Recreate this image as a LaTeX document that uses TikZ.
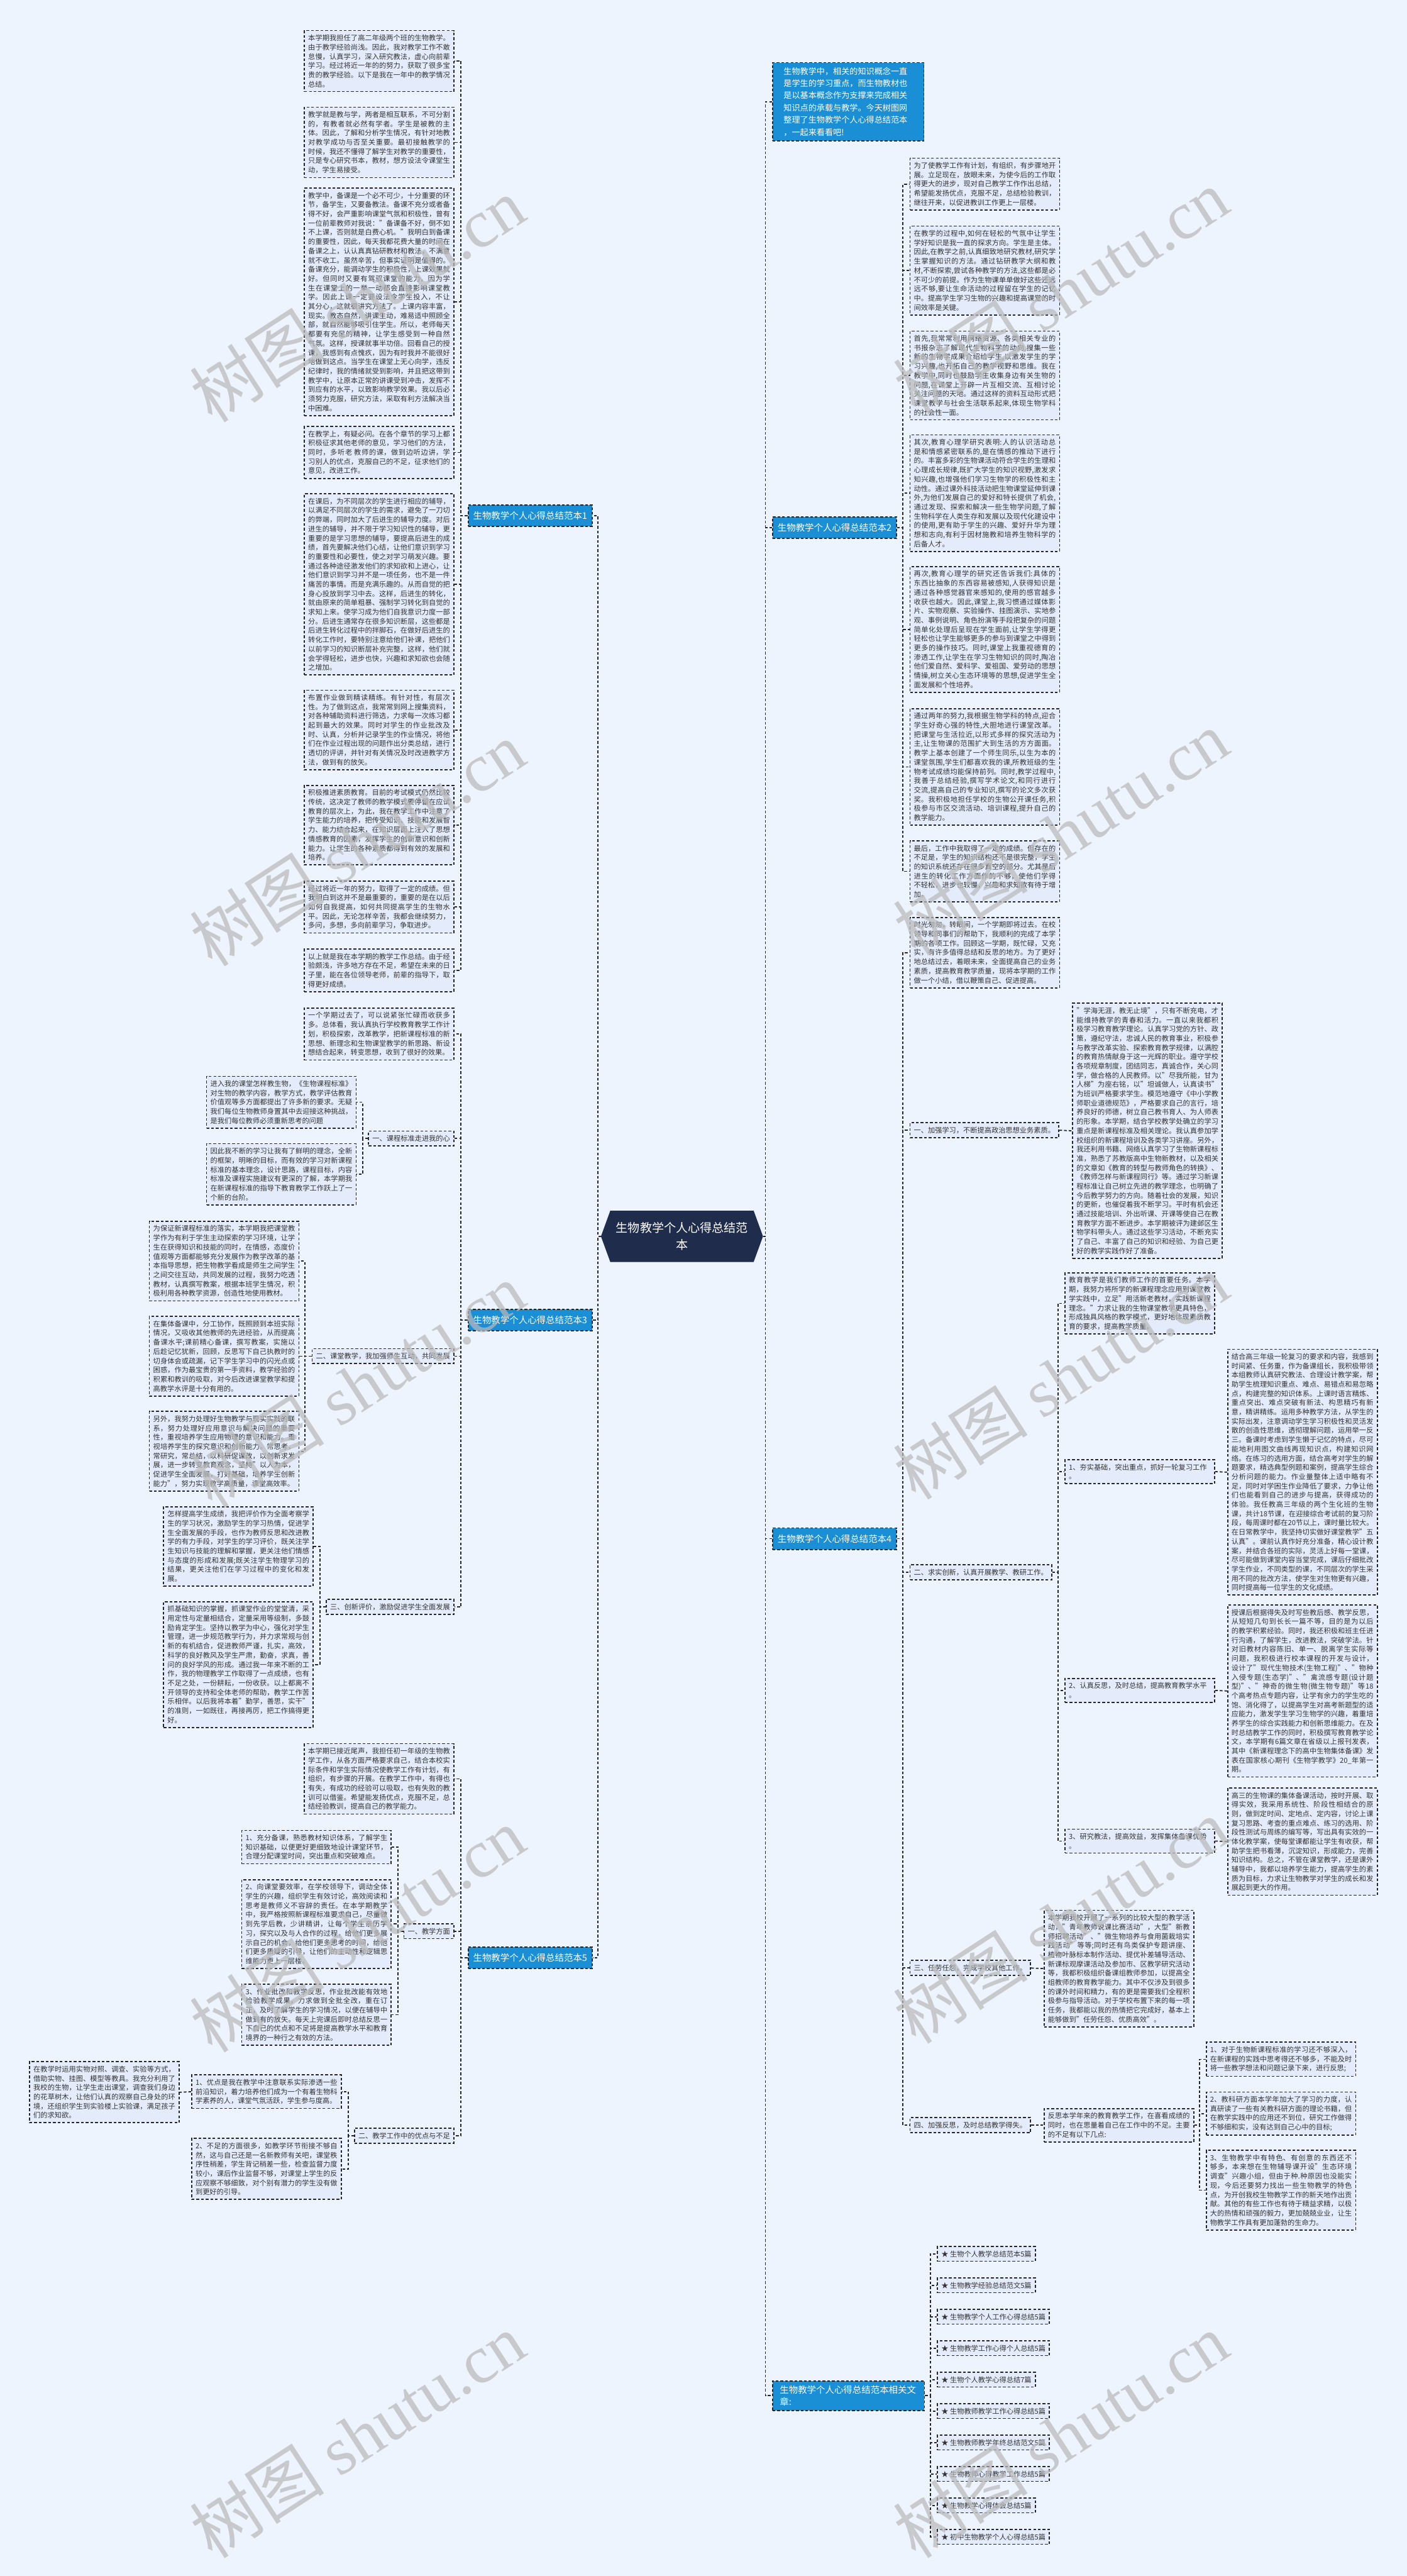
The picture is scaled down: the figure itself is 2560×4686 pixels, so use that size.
\documentclass[tikz,border=0pt]{standalone}
\usepackage{fontspec}
\setmainfont{Noto Sans CJK SC}
\newfontfamily\wmlatin{Liberation Serif}
\usetikzlibrary{shapes.symbols}
\XeTeXlinebreaklocale "zh"
\XeTeXlinebreakskip=0pt plus 0.6pt
\definecolor{pagebg}{HTML}{EEF4FE}
\definecolor{boxbg}{HTML}{E4ECFB}
\definecolor{topicblue}{HTML}{1A8FD6}
\definecolor{rootnavy}{HTML}{1F2C4C}
\definecolor{inktext}{HTML}{333333}
\tikzset{
  boxline/.style={draw=black!85, line width=0.02cm, dash pattern=on 0.05cm off 0.035cm},
  link/.style={boxline},
  smalltext/.style={fill=boxbg, text=inktext, font=\fontsize{3.65pt}{4.78pt}\selectfont, inner xsep=0.07cm, inner ysep=0.075cm},
  note/.style={boxline, smalltext, text width=2.58cm, align=justify},
  head/.style={boxline, smalltext},
  topic/.style={boxline, fill=topicblue, text=white, font=\fontsize{4.7pt}{6pt}\selectfont, inner xsep=0.09cm, minimum height=0.39cm},
  intro/.style={boxline, fill=topicblue, text=white, font=\fontsize{4.27pt}{6.3pt}\selectfont, inner xsep=0.2cm, inner ysep=0.085cm, text width=2.35cm, align=left},
  relnode/.style={boxline, fill=topicblue, text=white, font=\fontsize{4.7pt}{6.4pt}\selectfont, inner xsep=0.13cm, inner ysep=0.08cm, text width=2.5cm, align=left},
  root/.style={signal, signal to=west and east, signal pointer angle=140, fill=rootnavy, draw=rootnavy, text=white, font=\fontsize{6.2pt}{8.6pt}\selectfont, align=center, inner xsep=0.1cm, minimum width=2.84cm, minimum height=0.92cm},
  wm/.style={text=gray!55, opacity=0.72, rotate=33, font=\fontsize{35pt}{35pt}\selectfont}
}
\begin{document}
\begin{tikzpicture}[x=0.01cm,y=-0.01cm]
\useasboundingbox (0,0) rectangle (2560,4686);
\fill[pagebg] (0,0) rectangle (2560,4686);

\node[root] (root) at (1241,2249) {生物教学个人心得总结范\\本};
\node[topic, anchor=west] (t1) at (851,938) {生物教学个人心得总结范本1};
\node[topic, anchor=west] (t3) at (851,2401) {生物教学个人心得总结范本3};
\node[topic, anchor=west] (t5) at (851,3561) {生物教学个人心得总结范本5};
\node[topic, anchor=west] (t2) at (1405,960) {生物教学个人心得总结范本2};
\node[topic, anchor=west] (t4) at (1405,2799) {生物教学个人心得总结范本4};
\node[intro, anchor=west] (intro) at (1405,185) {生物教学中，相关的知识概念一直\\是学生的学习重点，而生物教材也\\是以基本概念作为支撑来完成相关\\知识点的承载与教学。今天树图网\\整理了生物教学个人心得总结范本\\，一起来看看吧!};
\node[relnode, anchor=west] (rel) at (1405,4358) {生物教学个人心得总结范本相关文\\章:};

% 范本1
\node[note, anchor=east] (p1a) at (827,111) {本学期我担任了高二年级两个班的生物教学。由于教学经验尚浅。因此，我对教学工作不敢怠慢，认真学习，深入研究教法，虚心向前辈学习。经过将近一年的的努力，获取了很多宝贵的教学经验。以下是我在一年中的教学情况总结。};
\node[note, anchor=east] (p1b) at (827,259) {教学就是教与学，两者是相互联系，不可分割的，有教者就必然有学者。学生是被教的主体。因此，了解和分析学生情况，有针对地教对教学成功与否至关重要。最初接触教学的时候，我还不懂得了解学生对教学的重要性，只是专心研究书本，教材，想方设法令课堂生动，学生易接受。};
\node[note, anchor=east] (p1c) at (827,549) {教学中，备课是一个必不可少，十分重要的环节，备学生，又要备教法。备课不充分或者备得不好，会严重影响课堂气氛和积极性，曾有一位前辈教师对我说："备课备不好，倒不如不上课，否则就是白费心机。"我明白到备课的重要性，因此，每天我都花费大量的时间在备课之上，认认真真钻研教材和教法，不满意就不收工。虽然辛苦，但事实证明是值得的。备课充分，能调动学生的积极性，上课效果就好。但同时又要有驾驭课堂的能力，因为学生在课堂上的一举一动都会直接影响课堂教学。因此上课一定要设法令学生投入，不让其分心，这就很讲究方法了。上课内容丰富，现实。教态自然，讲课生动，难易适中照顾全部，就自然能够吸引住学生。所以，老师每天都要有充足的精神，让学生感受到一种自然气氛。这样，授课就事半功倍。回看自己的授课，我感到有点愧疚，因为有时我并不能很好地做到这点。当学生在课堂上无心向学，违反纪律时，我的情绪就受到影响，并且把这带到教学中，让原本正常的讲课受到冲击，发挥不到应有的水平，以致影响教学效果。我以后必须努力克服，研究方法，采取有利方法解决当中困难。};
\node[note, anchor=east] (p1d) at (827,823) {在教学上，有疑必问。在各个章节的学习上都积极征求其他老师的意见，学习他们的方法，同时，多听老 教师的课，做到边听边讲，学习别人的优点，克服自己的不足，征求他们的意见，改进工作。};
\node[note, anchor=east] (p1e) at (827,1063) {在课后，为不同层次的学生进行相应的辅导，以满足不同层次的学生的需求，避免了一刀切的弊端，同时加大了后进生的辅导力度。对后进生的辅导，并不限于学习知识性的辅导，更重要的是学习思想的辅导，要提高后进生的成绩，首先要解决他们心结，让他们意识到学习的重要性和必要性，使之对学习萌发兴趣。要通过各种途径激发他们的求知欲和上进心，让他们意识到学习并不是一项任务，也不是一件痛苦的事情。而是充满乐趣的。从而自觉的把身心投放到学习中去。这样，后进生的转化，就由原来的简单粗暴、强制学习转化到自觉的求知上来。使学习成为他们自我意识力度一部分。后进生通常存在很多知识断层，这些都是后进生转化过程中的拌脚石，在做好后进生的转化工作时，要特别注意给他们补课，把他们以前学习的知识断层补充完整，这样，他们就会学得轻松，进步也快，兴趣和求知欲也会随之增加。};
\node[note, anchor=east] (p1f) at (827,1328) {布置作业做到精读精练。有针对性，有层次性。为了做到这点，我常常到网上搜集资料，对各种辅助资料进行筛选，力求每一次练习都起到最大的效果。同时对学生的作业批改及时、认真，分析并记录学生的作业情况，将他们在作业过程出现的问题作出分类总结，进行透切的评讲，并针对有关情况及时改进教学方法，做到有的放矢。};
\node[note, anchor=east] (p1g) at (827,1501) {积极推进素质教育。目前的考试模式仍然比较传统，这决定了教师的教学模式要停留在应试教育的层次上，为此，我在教学工作中注意了学生能力的培养，把传受知识、技能和发展智力、能力结合起来，在知识层面上注入了思想情感教育的因素，发挥学生的创新意识和创新能力。让学生的各种素质都得到有效的发展和培养。};
\node[note, anchor=east] (p1h) at (827,1650) {经过将近一年的努力，取得了一定的成绩。但我明白到这并不是最重要的，重要的是在以后如何自我提高，如何共同提高学生的生物水平。因此，无论怎样辛苦，我都会继续努力，多问，多想，多向前辈学习，争取进步。};
\node[note, anchor=east] (p1i) at (827,1765) {以上就是我在本学期的教学工作总结。由于经验颇浅，许多地方存在不足，希望在未来的日子里，能在各位领导老师，前辈的指导下，取得更好成绩。};

% 范本3
\node[note, anchor=east] (p30) at (827,1881) {一个学期过去了，可以说紧张忙碌而收获多多。总体看，我认真执行学校教育教学工作计划，积极探索，改革教学，把新课程标准的新思想、新理念和生物课堂教学的新思路、新设想结合起来，转变思想，收到了很好的效果。};
\node[head, anchor=east] (h31) at (827,2071) {一、课程标准走进我的心};
\node[head, anchor=east] (h32) at (827,2467) {二、课堂教学，我加强师生互动，共同发展};
\node[head, anchor=east] (h33) at (827,2923) {三、创新评价，激励促进学生全面发展};
\node[note, anchor=east] (p31a) at (649,2005) {进入我的课堂怎样教生物，《生物课程标准》对生物的教学内容，教学方式，教学评估教育价值观等多方面都提出了许多新的要求。无疑我们每位生物教师身置其中去迎接这种挑战，是我们每位教师必须重新思考的问题};
\node[note, anchor=east] (p31b) at (649,2136) {因此我不断的学习让我有了鲜明的理念，全新的框架，明晰的目标，而有效的学习对新课程标准的基本理念，设计思路，课程目标，内容标准及课程实施建议有更深的了解，本学期我在新课程标准的指导下教育教学工作跃上了一个新的台阶。};
\node[note, anchor=east] (p32a) at (545,2294) {为保证新课程标准的落实，本学期我把课堂教学作为有利于学生主动探索的学习环境，让学生在获得知识和技能的同时，在情感，态度价值观等方面都能够充分发展作为教学改革的基本指导思想，把生物教学看成是师生之间学生之间交往互动，共同发展的过程，我努力吃透教材，认真撰写教案，根据本班学生情况，积极利用各种教学资源，创造性地使用教材。};
\node[note, anchor=east] (p32b) at (545,2467) {在集体备课中，分工协作，既照顾到本班实际情况，又吸收其他教师的先进经验，从而提高备课水平;课前精心备课，撰写教案，实施以后趁记忆犹新，回顾，反思写下自己执教时的切身体会或疏漏，记下学生学习中的闪光点或困惑，作为最宝贵的第一手资料，教学经验的积累和教训的吸取，对今后改进课堂教学和提高教学水评是十分有用的。};
\node[note, anchor=east] (p32c) at (545,2640) {另外，我努力处理好生物教学与现实实践的联系，努力处理好应用意识与解决问题的重要性，重视培养学生应用物理的意识和能力。重视培养学生的探究意识和创新能力。常思考，常研究，常总结，以科研促课改，以创新求发展，进一步转变教育观念，坚持"以人为本，促进学生全面发展，打好基础，培养学生创新能力"，努力实现教学高质量，课堂高效率。};
\node[note, anchor=east] (p33a) at (571,2813) {怎样提高学生成绩，我把评价作为全面考察学生的学习状况，激励学生的学习热情，促进学生全面发展的手段，也作为教师反思和改进教学的有力手段，对学生的学习评价，既关注学生知识与技能的理解和掌握，更关注他们情感与态度的形成和发展;既关注学生物理学习的结果，更关注他们在学习过程中的变化和发展。};
\node[note, anchor=east] (p33b) at (571,3028) {抓基础知识的掌握，抓课堂作业的堂堂清，采用定性与定量相结合，定量采用等级制，多鼓励肯定学生。坚持以教学为中心，强化对学生管理，进一步规范教学行为，并力求常规与创新的有机结合，促进教师严谨，扎实，高效，科学的良好教风及学生严肃，勤奋，求真，善问的良好学风的形成。通过我一年来不断的工作，我的物理教学工作取得了一点成绩，也有不足之处，一份耕耘，一份收获。以上都离不开领导的支持和全体老师的帮助，教学工作苦乐相伴。以后我将本着"勤学，善思，实干"的准则，一如既往，再接再厉，把工作搞得更好。};

% 范本5
\node[note, anchor=east] (p50) at (827,3236) {本学期已接近尾声，我担任初一年级的生物教学工作，从各方面严格要求自己，结合本校实际条件和学生实际情况使教学工作有计划，有组织，有步骤的开展。在教学工作中，有得也有失，有成功的经验可以吸取，也有失败的教训可以借鉴。希望能发扬优点，克服不足，总结经验教训，提高自己的教学能力。};
\node[head, anchor=east] (h51) at (827,3513) {一、教学方面};
\node[head, anchor=east] (h52) at (827,3885) {二、教学工作中的优点与不足};
\node[note, anchor=east] (p51a) at (713,3360) {1、充分备课，熟悉教材知识体系，了解学生知识基础，以便更好更细致地设计课堂环节，合理分配课堂时间，突出重点和突破难点。};
\node[note, anchor=east] (p51b) at (713,3500) {2、向课堂要效率，在学校领导下，调动全体学生的兴趣，组织学生有效讨论，高效阅读和思考是教师义不容辞的责任。在本学期教学中，我严格按照新课程标准要求自己，尽量做到先学后教，少讲精讲，让每个学生亲历学习，探究以及与人合作的过程，给他们更多展示自己的机会，给他们更多思考的时间，给他们更多质疑的引导，让他们的主动性和逻辑思维能力更上一层楼。};
\node[note, anchor=east] (p51c) at (713,3665) {3、作业批改和教学反思，作业批改能有效地检验教学成果，力求做到全批全改，重在订正，及时了解学生的学习情况，以便在辅导中做到有的放矢。每天上完课后即时总结反思一下自己的优点和不足将是提高教学水平和教育境界的一种行之有效的方法。};
\node[note, anchor=east] (p52a) at (622,3805) {1、优点是我在教学中注意联系实际渗透一些前沿知识，着力培养他们成为一个有着生物科学素养的人，课堂气氛活跃，学生参与度高。};
\node[note, anchor=north east] (p52b) at (622,3889) {2、不足的方面很多，如教学环节衔接不够自然，这与自己还是一名新教师有关吧，课堂秩序性稍差，学生背记稍差一些，检查监督力度较小，课后作业监督不够，对课堂上学生的反应观察不够细致，对个别有潜力的学生没有做到更好的引导。};
\node[note, anchor=east] (p52c) at (327,3806) {在教学时运用实物对照、调查、实验等方式，借助实物、挂图、模型等教具。我充分利用了我校的生物，让学生走出课堂，调查我们身边的花草树木，让他们认真的观察自己身处的环境，还组织学生到实验楼上实验课，满足孩子们的求知欲。};

% 范本2
\node[note, anchor=west] (p2a) at (1655,335) {为了使教学工作有计划，有组织，有步骤地开展。立足现在，放眼未来，为使今后的工作取得更大的进步，现对自己教学工作作出总结，希望能发扬优点，克服不足，总结检验教训，继往开来，以促进教训工作更上一层楼。};
\node[note, anchor=west] (p2b) at (1655,492) {在教学的过程中,如何在轻松的气氛中让学生学好知识是我一直的探求方向。学生是主体。因此,在教学之前,认真细致地研究教材,研究学生掌握知识的方法。通过钻研教学大纲和教材,不断探索,尝试各种教学的方法,这些都是必不可少的前提。作为生物课单单做好这些还远远不够,要让生命活动的过程留在学生的记忆中。提高学生学习生物的兴趣和提高课堂的时间效率是关键。};
\node[note, anchor=west] (p2c) at (1655,683) {首先,我常常利用网络资源、各类相关专业的书报杂志了解现代生物科学的动向,搜集一些新的生物学成果介绍给学生,以激发学生的学习兴趣,也开拓自己的教学视野和思维。我在教学中,同时也鼓励学生收集身边有关生物的问题,在课堂上开辟一片互相交流、互相讨论关注问题的天地。通过这样的资料互动形式把课堂教学与社会生活联系起来,体现生物学科的社会性一面。};
\node[note, anchor=west] (p2d) at (1655,897) {其次,教育心理学研究表明:人的认识活动总是和情感紧密联系的,是在情感的推动下进行的。丰富多彩的生物课活动符合学生的生理和心理成长规律,既扩大学生的知识视野,激发求知兴趣,也增强他们学习生物学的积极性和主动性。通过课外科技活动把生物课堂延伸到课外,为他们发展自己的爱好和特长提供了机会,通过发现、探索和解决一些生物学问题,了解生物科学在人类生存和发展以及现代化建设中的使用,更有助于学生的兴趣、爱好升华为理想和志向,有利于因材施教和培养生物科学的后备人才。};
\node[note, anchor=west] (p2e) at (1655,1145) {再次,教育心理学的研究还告诉我们:具体的东西比抽象的东西容易被感知,人获得知识是通过各种感觉器官来感知的,使用的感官越多收获也越大。因此,课堂上,我习惯通过媒体影片、实物观察、实验操作、挂图演示、实地参观、事例说明、角色扮演等手段把复杂的问题简单化处理后呈现在学生面前,让学生学得更轻松也让学生能够更多的参与到课堂之中得到更多的操作技巧。同时,课堂上我重视德育的渗透工作,让学生在学习生物知识的同时,陶冶他们爱自然、爱科学、爱祖国、爱劳动的思想情操,树立关心生态环境等的思想,促进学生全面发展和个性培养。};
\node[note, anchor=west] (p2f) at (1655,1395) {通过两年的努力,我根据生物学科的特点,迎合学生好奇心强的特性,大胆地进行课堂改革。把课堂与生活拉近,以形式多样的探究活动为主,让生物课的范围扩大到生活的方方面面。教学上基本创建了一个师生同乐,以生为本的课堂氛围,学生们都喜欢我的课,所教班级的生物考试成绩均能保持前列。同时,教学过程中,我善于总结经验,撰写学术论文,和同行进行交流,提高自己的专业知识,撰写的论文多次获奖。我积极地担任学校的生物公开课任务,积极参与市区交流活动、培训课程,提升自己的教学能力。};
\node[note, anchor=west] (p2g) at (1655,1585) {最后，工作中我取得了一定的成绩。但存在的不足是，学生的知识结构还不是很完整，学生的知识系统还存在很多真空的部分。尤其是后进生的转化工作方面作的不够，使他们学得不轻松，进步也较慢，兴趣和求知欲有待于增加。};

% 范本4
\node[note, anchor=west] (p40) at (1655,1733) {时光匆匆，转眼间，一个学期即将过去。在校领导和同事们的帮助下，我顺利的完成了本学期的各项工作。回顾这一学期，既忙碌，又充实，有许多值得总结和反思的地方。为了更好地总结过去，着眼未来，全面提高自己的业务素质，提高教育教学质量，现将本学期的工作做一个小结，借以鞭策自己、促进提高。};
\node[head, anchor=west] (h41) at (1655,2056) {一、加强学习，不断提高政治思想业务素质。};
\node[head, anchor=west] (h42) at (1655,2860) {二、求实创新，认真开展教学、教研工作。};
\node[head, anchor=west] (h43) at (1655,3580) {三、任劳任怨，完成学校其他工作。};
\node[head, anchor=west] (h44) at (1655,3866) {四、加强反思，及时总结教学得失。};
\node[note, anchor=west] (p41) at (1951,2057) {"学海无涯，教无止境"，只有不断充电，才能维持教学的青春和活力。一直以来我都积极学习教育教学理论。认真学习党的方针、政策，遵纪守法，忠诚人民的教育事业，积极参与教学改革实验、探索教育教学规律，以满腔的教育热情献身于这一光辉的职业。遵守学校各项规章制度，团结同志，真诚合作，关心同学，做合格的人民教师。以"尽我所能，甘为人梯"为座右铭，以"坦诚做人，认真读书"为班训严格要求学生。模范地遵守《中小学教师职业道德规范》，严格要求自己的言行，培养良好的师德，树立自己教书育人、为人师表的形象。本学期，结合学校教学处确立的学习重点是新课程标准及相关理论。我认真参加学校组织的新课程培训及各类学习讲座。另外，我还利用书籍、网络认真学习了生物新课程标准，熟悉了苏教版高中生物新教材，以及相关的文章如《教育的转型与教师角色的转换》、《教师怎样与新课程同行》等。通过学习新课程标准让自己树立先进的教学理念，也明确了今后教学努力的方向。随着社会的发展，知识的更新，也催促着我不断学习。平时有机会还通过技能培训、外出听课、开课等使自己在教育教学方面不断进步。本学期被评为建邺区生物学科带头人。通过这些学习活动，不断充实了自己、丰富了自己的知识和经验、为自己更好的教学实践作好了准备。};
\node[note, anchor=west] (p42a) at (1937,2371) {教育教学是我们教师工作的首要任务。本学期，我努力将所学的新课程理念应用到课堂教学实践中，立足"用活新老教材，实践新课程理念。"力求让我的生物课堂教学更具特色，形成独具风格的教学模式，更好地体现素质教育的要求，提高教学质量。};
\node[note, align=left, anchor=west] (h42b) at (1937,2677) {1、夯实基础，突出重点，抓好一轮复习工作\\。};
\node[note, align=left, anchor=west] (h42c) at (1937,3075) {2、认真反思，及时总结，提高教育教学水平\\。};
\node[note, align=left, anchor=west] (h42d) at (1937,3349) {3、研究教法，提高效益，发挥集体备课优势\\。};
\node[note, anchor=west] (p42b) at (2233,2678) {结合高三年级一轮复习的要求和内容，我感到时间紧、任务重，作为备课组长，我积极带领本组教师认真研究教法、合理设计教学案，帮助学生梳理知识重点、难点、易错点和易忽略点，构建完整的知识体系。上课时语言精炼、重点突出、难点突破有新法、构思精巧有新意，精讲精练。运用多种教学方法，从学生的实际出发，注意调动学生学习积极性和灵活发散的创造性思维，透彻理解问题，运用举一反三。备课时考虑到学生懒于记忆的特点，尽可能地利用图文曲线再现知识点，构建知识网络。在练习的选用方面，结合高考对学生的解题要求，精选典型例题和案例，提高学生综合分析问题的能力。作业量整体上适中略有不足，同时对学困生作业降低了要求，力争让他们也能看到自己的进步与提高，获得成功的体验。我任教高三年级的两个生化班的生物课，共计18节课，在迎接综合考试前的复习阶段，每周课时都在20节以上，课时量比较大。在日常教学中，我坚持切实做好课堂教学"五认真"。课前认真作好充分准备，精心设计教案，并结合各班的实际，灵活上好每一堂课，尽可能做到课堂内容当堂完成，课后仔细批改学生作业，不同类型的课，不同层次的学生采用不同的批改方法，使学生对生物更有兴趣，同时提高每一位学生的文化成绩。};
\node[note, anchor=west] (p42c) at (2233,3076) {授课后根据得失及时写些教后感、教学反思，从短短几句到长长一篇不等，目的是为以后的教学积累经验。同时，我还积极和班主任进行沟通，了解学生，改进教法，突破学法。针对旧教材内容陈旧、单一、脱离学生实际等问题，我积极进行校本课程的开发与设计，设计了"现代生物技术(生物工程)"、"物种入侵专题(生态学)"、"禽流感专题(设计题型)"、"神奇的微生物(微生物专题)"等18个高考热点专题内容，让学有余力的学生吃的饱、消化得了，以提高学生对高考新题型的适应能力，激发学生学习生物学的兴趣，着重培养学生的综合实践能力和创新思维能力。在及时总结教学工作的同时，积极撰写教育教学论文，本学期有6篇文章在省级以上报刊发表，其中《新课程理念下的高中生物集体备课》发表在国家核心期刊《生物学教学》20\_年第一期。};
\node[note, anchor=west] (p42d) at (2233,3350) {高三的生物课的集体备课活动，按时开展、取得实效，我采用系统性、阶段性相结合的原则，做到定时间、定地点、定内容，讨论上课复习思路、考查的重点难点、练习的选用、阶段性测试与周练的编写等，写出具有实效的一体化教学案，使每堂课都能让学生有收获，帮助学生把书看薄，沉淀知识，形成能力，完善知识结构。总之，不管在课堂教学，还是课外辅导中，我都以培养学生能力，提高学生的素质为目标，力求让生物教学对学生的成长和发展起到更大的作用。};
\node[note, anchor=west] (p43) at (1899,3581) {本学期我校开展了一系列的比较大型的教学活动，"青年教师说课比赛活动"，大型"新教师招聘活动"、"微生物培养与食用菌栽培实践活动"等等;同时还有鸟类保护专题讲座、植物叶脉标本制作活动、提优补差辅导活动、新课标观摩课活动及参加市、区教学研究活动等，我都积极组织备课组教师参加，以提高全组教师的教育教学能力。其中不仅涉及到很多的课外时间和精力，有的更是需要我们全程积极参与指导活动。对于学校布置下来的每一项任务，我都能以我的热情把它完成好，基本上能够做到"任劳任怨、优质高效"。};
\node[note, anchor=west] (p44) at (1899,3866) {反思本学年来的教育教学工作，在喜看成绩的同时，也在思量着自己在工作中的不足。主要的不足有以下几点:};
\node[note, anchor=west] (p44a) at (2194,3746) {1、对于生物新课程标准的学习还不够深入，在新课程的实践中思考得还不够多，不能及时将一些教学想法和问题记录下来，进行反思;};
\node[note, anchor=west] (p44b) at (2194,3845) {2、教科研方面本学年加大了学习的力度，认真研读了一些有关教科研方面的理论书籍，但在教学实践中的应用还不到位，研究工作做得不够细和实，没有达到自己心中的目标;};
\node[note, anchor=west] (p44c) at (2194,3984) {3、生物教学中有特色、有创意的东西还不够多，本来想在生物辅导课开设"生态环境调查"兴趣小组，但由于种.种原因也没能实现，今后还要努力找出一些生物教学的特色点，为开创我校生物教学工作的新天地作出贡献。其他的有些工作也有待于精益求精，以极大的热情和顽强的毅力，更加兢兢业业，让生物教学工作具有更加蓬勃的生命力。};

% 相关文章
\foreach \txt [count=\i] in {生物个人教学总结范本5篇, 生物教学经验总结范文5篇, 生物教学个人工作心得总结5篇, 生物教学工作心得个人总结5篇, 生物个人教学心得总结7篇, 生物教师教学工作心得总结5篇, 生物教师教学年终总结范文5篇, 生物教师心得教学工作总结5篇, 生物教学心得体会总结5篇, 初中生物教学个人心得总结5篇}
  \node[head, anchor=west] (r\i) at (1705,{4100+57.2*(\i-1)}) {★ \txt};

% spines and brackets
\coordinate (lsp) at (1088,0);
\coordinate (rsp) at (1393,0);
\coordinate (kL) at (839,0);
\coordinate (kR) at (1643,0);
\foreach \t in {t1,t3,t5} \draw[link] (root.west) -- (root.west -| lsp) |- (\t.east);
\foreach \t in {intro,t2,t4,rel} \draw[link] (root.east) -- (root.east -| rsp) |- (\t.west);
\foreach \c in {p1a,p1b,p1c,p1d,p1e,p1f,p1g,p1h,p1i} \draw[link] (t1.west) -- (t1.west -| kL) |- (\c.east);
\foreach \c in {p30,h31,h32,h33} \draw[link] (t3.west) -- (t3.west -| kL) |- (\c.east);
\foreach \c in {p50,h51,h52} \draw[link] (t5.west) -- (t5.west -| kL) |- (\c.east);
\foreach \c in {p2a,p2b,p2c,p2d,p2e,p2f,p2g} \draw[link] (t2.east) -- (t2.east -| kR) |- (\c.west);
\foreach \c in {p40,h41,h42,h43,h44} \draw[link] (t4.east) -- (t4.east -| kR) |- (\c.west);
\coordinate (k31) at (660,0);
\coordinate (k32) at (555,0);
\coordinate (k33) at (582,0);
\coordinate (k51) at (724,0);
\coordinate (k52) at (634,0);
\coordinate (k42) at (1925,0);
\coordinate (k44) at (2183,0);
\coordinate (krel) at (1693,0);
\foreach \c in {p31a,p31b} \draw[link] (h31.west) -- (h31.west -| k31) |- (\c.east);
\foreach \c in {p32a,p32b,p32c} \draw[link] (h32.west) -- (h32.west -| k32) |- (\c.east);
\foreach \c in {p33a,p33b} \draw[link] (h33.west) -- (h33.west -| k33) |- (\c.east);
\foreach \c in {p51a,p51b,p51c} \draw[link] (h51.west) -- (h51.west -| k51) |- (\c.east);
\foreach \c in {p52a,p52b} \draw[link] (h52.west) -- (h52.west -| k52) |- (\c.east);
\draw[link] (p52a.west) -- (p52c.east);
\draw[link] (h41.east) -- (p41.west);
\foreach \c in {p42a,h42b,h42c,h42d} \draw[link] (h42.east) -- (h42.east -| k42) |- (\c.west);
\draw[link] (h42b.east) -- (p42b.west);
\draw[link] (h42c.east) -- (p42c.west);
\draw[link] (h42d.east) -- (p42d.west);
\draw[link] (h43.east) -- (p43.west);
\draw[link] (h44.east) -- (p44.west);
\foreach \c in {p44a,p44b,p44c} \draw[link] (p44.east) -- (p44.east -| k44) |- (\c.west);
\foreach \i in {1,...,10} \draw[link] (rel.east) -- (rel.east -| krel) |- (r\i.west);

% watermarks
\foreach \x/\y [count=\i] in {650/545, 650/1535, 650/2520, 650/3510, 650/4430, 1930/530, 1930/1515, 1930/2505, 1930/3495, 1930/4430}
  \node[wm] (wm\i) at (\x,\y) {树图 {\wmlatin shutu.cn}};
\end{tikzpicture}
\end{document}
